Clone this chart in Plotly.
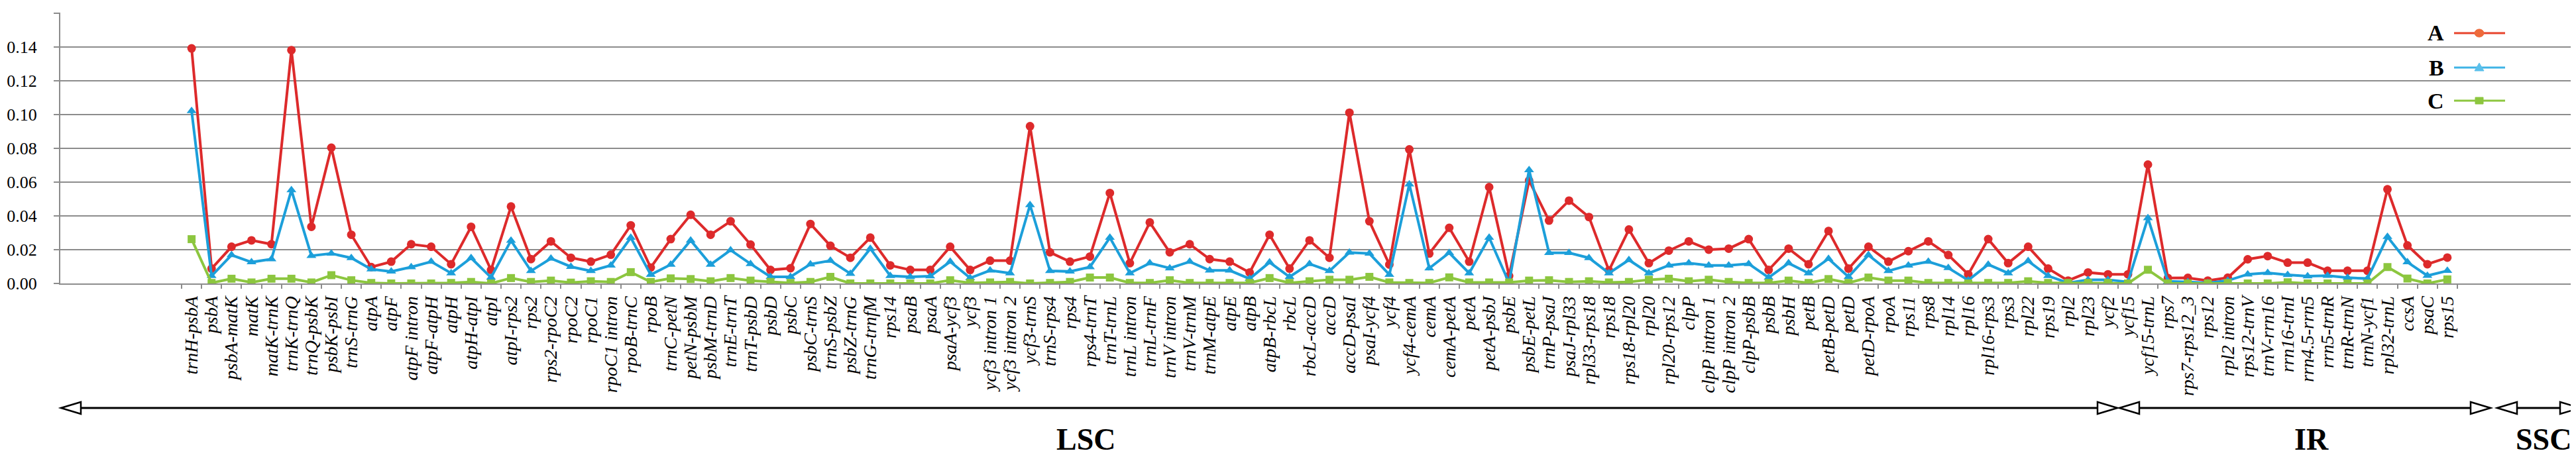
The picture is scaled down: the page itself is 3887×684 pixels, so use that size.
import plotly.graph_objects as go

# intergenic / gene regions along the plastome
regions = ["trnH-psbA", "psbA", "psbA-matK", "matK", "matK-trnK", "trnK-trnQ", "trnQ-psbK", "psbK-psbI", "trnS-trnG", "atpA",
           "atpF", "atpF intron", "atpF-atpH", "atpH", "atpH-atpI", "atpI", "atpI-rps2", "rps2", "rps2-rpoC2", "rpoC2",
           "rpoC1", "rpoC1 intron", "rpoB-trnC", "rpoB", "trnC-petN", "petN-psbM", "psbM-trnD", "trnE-trnT", "trnT-psbD", "psbD",
           "psbC", "psbC-trnS", "trnS-psbZ", "psbZ-trnG", "trnG-trnfM", "rps14", "psaB", "psaA", "psaA-ycf3", "ycf3",
           "ycf3 intron 1", "ycf3 intron 2", "ycf3-trnS", "trnS-rps4", "rps4", "rps4-trnT", "trnT-trnL", "trnL intron", "trnL-trnF", "trnV intron",
           "trnV-trnM", "trnM-atpE", "atpE", "atpB", "atpB-rbcL", "rbcL", "rbcL-accD", "accD", "accD-psaI", "psaI-ycf4",
           "ycf4", "ycf4-cemA", "cemA", "cemA-petA", "petA", "petA-psbJ", "psbE", "psbE-petL", "trnP-psaJ", "psaJ-rpl33",
           "rpl33-rps18", "rps18", "rps18-rpl20", "rpl20", "rpl20-rps12", "clpP", "clpP intron 1", "clpP intron 2", "clpP-psbB", "psbB",
           "psbH", "petB", "petB-petD", "petD", "petD-rpoA", "rpoA", "rps11", "rps8", "rpl14", "rpl16",
           "rpl16-rps3", "rps3", "rpl22", "rps19", "rpl2", "rpl23", "ycf2", "ycf15", "ycf15-trnL", "rps7",
           "rps7-rps12_3", "rps12", "rpl2 intron", "rps12-trnV", "trnV-rrn16", "rrn16-trnI", "rrn4.5-rrn5", "rrn5-trnR", "trnR-trnN", "trnN-ycf1",
           "rpl32-trnL", "ccsA", "psaC", "rps15"]

A = [0.139, 0.0088, 0.0217, 0.0255, 0.0232, 0.138, 0.0335, 0.0803, 0.0288, 0.0097,
     0.0129, 0.0232, 0.0217, 0.0114, 0.0335, 0.008, 0.0455, 0.0144, 0.0249, 0.0152,
     0.0129, 0.017, 0.0344, 0.0094, 0.0262, 0.0406, 0.0288, 0.0368, 0.023, 0.008,
     0.009, 0.0352, 0.0223, 0.0152, 0.0271, 0.0107, 0.008, 0.008, 0.0217, 0.008,
     0.0135, 0.0135, 0.093, 0.0184, 0.0129, 0.0159, 0.0535, 0.012, 0.0361, 0.0184,
     0.0232, 0.0144, 0.0129, 0.0065, 0.0288, 0.0088, 0.0255, 0.0152, 0.101, 0.0368,
     0.0112, 0.0793, 0.0177, 0.0329, 0.0129, 0.057, 0.0045, 0.0609, 0.0372, 0.049,
     0.0393, 0.0077, 0.0319, 0.012, 0.0194, 0.0249, 0.02, 0.0206, 0.0262, 0.008,
     0.0206, 0.0114, 0.031, 0.0088, 0.0217, 0.0129, 0.0191, 0.0249, 0.0168, 0.0054,
     0.0262, 0.012, 0.0217, 0.0088, 0.0017, 0.0065, 0.0054, 0.0054, 0.0703, 0.0032,
     0.0033, 0.0017, 0.0034, 0.0143, 0.0162, 0.0123, 0.0123, 0.0075, 0.0075, 0.0075,
     0.0557, 0.0225, 0.0114, 0.0153]

B = [0.102, 0.0045, 0.0168, 0.0126, 0.0144, 0.0552, 0.0164, 0.0177, 0.0151, 0.0084,
     0.0071, 0.0097, 0.0129, 0.0061, 0.0151, 0.0035, 0.0254, 0.0074, 0.0148, 0.0099,
     0.0074, 0.0107, 0.0271, 0.0052, 0.0112, 0.0255, 0.0112, 0.0197, 0.0116, 0.0039,
     0.0039, 0.0114, 0.0135, 0.0058, 0.0206, 0.0045, 0.0039, 0.0043, 0.0129, 0.0032,
     0.0077, 0.0061, 0.0464, 0.0074, 0.0071, 0.0097, 0.0271, 0.0061, 0.012, 0.009,
     0.0129, 0.0077, 0.0077, 0.0028, 0.0125, 0.0039, 0.0116, 0.0074, 0.0183, 0.0177,
     0.0052, 0.0587, 0.009, 0.0181, 0.0061, 0.0271, 0.0003, 0.0671, 0.0181, 0.0181,
     0.0151, 0.0061, 0.0139, 0.0061, 0.0107, 0.012, 0.0107, 0.0107, 0.0116, 0.0035,
     0.012, 0.0061, 0.0146, 0.0039, 0.0168, 0.0074, 0.0107, 0.0129, 0.0092, 0.0019,
     0.0112, 0.0061, 0.0133, 0.0045, 0.0003, 0.0022, 0.0022, 0.0009, 0.0387, 0.0013,
     0.0009, 0.0003, 0.0017, 0.0054, 0.0063, 0.0051, 0.0043, 0.0046, 0.0034, 0.0029,
     0.0276, 0.0126, 0.0046, 0.0075]

C = [0.0262, 0.0003, 0.0028, 0.0006, 0.0028, 0.0028, 0.0006, 0.0049, 0.0019, 0.0003,
     0, 0, 0, 0.0003, 0.0009, 0, 0.0032, 0.0009, 0.0017, 0.0005,
     0.0013, 0.0009, 0.0067, 0.0009, 0.003, 0.0026, 0.0013, 0.0032, 0.0017, 0.0009,
     0.0003, 0.0009, 0.0039, 0, 0, 0, 0, 0, 0.0019, 0.0003,
     0.0006, 0.0009, 0, 0.0003, 0.0009, 0.0035, 0.0035, 0.0003, 0.0003, 0.0019,
     0.0003, 0.0003, 0.0003, 0.0003, 0.0032, 0.0003, 0.0013, 0.0022, 0.0022, 0.0039,
     0.0006, 0.0003, 0.0003, 0.0036, 0.0006, 0.0006, 0.0006, 0.0017, 0.0019, 0.0009,
     0.0013, 0.0006, 0.0009, 0.0022, 0.0028, 0.0013, 0.0022, 0.0009, 0.0003, 0.0003,
     0.0017, 0.0003, 0.0026, 0.0003, 0.0035, 0.0017, 0.0017, 0.0003, 0.0003, 0,
     0.0003, 0.0003, 0.0013, 0.0003, 0.0003, 0.0003, 0.0003, 0, 0.0081, 0,
     0, 0, 0.0003, 0, 0, 0.0007, 0, 0, 0, 0,
     0.0097, 0.0029, 0, 0.0024]

# series look
series = [("A", A, "#DD2A2B", "circle", 13),
          ("B", B, "#1C9FDA", "triangle-up", 13),
          ("C", C, "#8CC63F", "square", 12)]

W, H = 3887, 684
L, R, T, Bt = 83, 3883, 11, 420   # plot area in pixels


def px(x):
    return (x - L) / (R - L)


def py(y):
    return (Bt - y) / (Bt - T)


fig = go.Figure()
for name, vals, col, sym, sz in series:
    fig.add_trace(go.Scatter(x=regions, y=vals, name=name, mode="lines+markers",
                             line=dict(color=col, width=4),
                             marker=dict(symbol=sym, size=sz, color=col),
                             showlegend=False))

shapes = []
annots = []

# region arrows (LSC / IR / SSC)
ay = py(608)
hl, hh = 30, 9


def arrow(x0, x1):
    out = []
    out.append(dict(type="line", xref="paper", yref="paper",
                    x0=px(x0 + hl), x1=px(x1 - hl), y0=ay, y1=ay,
                    line=dict(color="black", width=3)))
    for tip, base in ((x0, x0 + hl), (x1, x1 - hl)):
        path = "M %f,%f L %f,%f L %f,%f Z" % (px(tip), ay, px(base), py(608 - hh), px(base), py(608 + hh))
        out.append(dict(type="path", xref="paper", yref="paper", path=path,
                        fillcolor="white", line=dict(color="black", width=2.5)))
    return out


for x0, x1, lab, cx in ((84, 3187, "LSC", 1630), (3190, 3750, "IR", 3480), (3760, 3885, "SSC", 3830)):
    shapes += arrow(x0, x1)
    annots.append(dict(text=lab, xref="paper", yref="paper", x=px(cx), y=py(655),
                       xanchor="center", yanchor="middle", showarrow=False,
                       font=dict(family="Liberation Serif", size=46, color="black", weight="bold")))

# legend drawn by hand: label on the left, key on the right
leg = [("A", "#E8432C", "#EE6B3B", 42), ("B", "#3FB4E6", "#5BC0EB", 94), ("C", "#8DC63F", "#8DC63F", 144)]
for lab, lc, mc, yy in leg:
    annots.append(dict(text=lab, xref="paper", yref="paper", x=px(3682), y=py(yy),
                       xanchor="right", yanchor="middle", showarrow=False,
                       font=dict(family="Liberation Serif", size=34, color="black", weight="bold")))
    shapes.append(dict(type="line", xref="paper", yref="paper", x0=px(3695), x1=px(3772),
                       y0=py(yy), y1=py(yy), line=dict(color=lc, width=3)))
    mx, my = px(3733), py(yy)
    if lab == "A":
        shapes.append(dict(type="circle", xref="paper", yref="paper", xsizemode="pixel", ysizemode="pixel",
                           xanchor=mx, yanchor=my, x0=-7, x1=7, y0=-6, y1=6,
                           fillcolor=mc, line=dict(color=mc, width=1)))
    elif lab == "B":
        shapes.append(dict(type="path", xref="paper", yref="paper", xsizemode="pixel", ysizemode="pixel",
                           xanchor=mx, yanchor=my, path="M -7,-5 L 7,-5 L 0,7 Z",
                           fillcolor=mc, line=dict(color=mc, width=1)))
    else:
        shapes.append(dict(type="rect", xref="paper", yref="paper", xsizemode="pixel", ysizemode="pixel",
                           xanchor=mx, yanchor=my, x0=-6, x1=6, y0=-5, y1=5,
                           fillcolor=mc, line=dict(color=mc, width=1)))

fig.update_layout(
    width=W, height=H,
    margin=dict(l=L, r=W - R, t=T, b=H - Bt),
    plot_bgcolor="white", paper_bgcolor="white",
    shapes=shapes, annotations=annots,
    showlegend=False,
)
fig.update_xaxes(type="category", tickmode="linear", dtick=1, tickson="boundaries",
                 ticks="outside", ticklen=6, tickwidth=2,
                 tickcolor="#8c8c8c", showline=True, linecolor="#8c8c8c", linewidth=2,
                 showgrid=False, tickangle=-90, automargin=False, ticklabelstandoff=6,
                 tickfont=dict(family="Liberation Serif", size=28, color="black", style="italic"))
fig.update_yaxes(range=[0, 0.1602], dtick=0.02, tickformat=".2f", ticks="outside", ticklen=8, tickwidth=2,
                 tickcolor="#8c8c8c", showline=True, linecolor="#8c8c8c", linewidth=2,
                 showgrid=True, gridcolor="#8c8c8c", gridwidth=2, zeroline=False, automargin=False,
                 ticklabelstandoff=20,
                 tickfont=dict(family="Liberation Serif", size=26, color="black"))

fig.write_html("out.html")
